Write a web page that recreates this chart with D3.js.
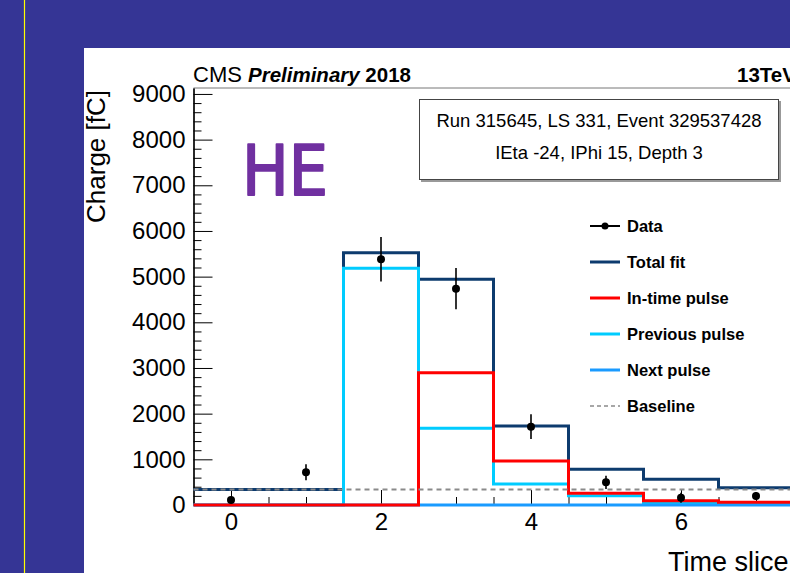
<!DOCTYPE html>
<html><head><meta charset="utf-8">
<script src="https://cdn.jsdelivr.net/npm/d3@7"></script>
<style>html,body{margin:0;padding:0;background:#353595;overflow:hidden}svg{display:block}</style>
</head><body>
<svg id="c" width="790" height="573"></svg>
<script>
// ---- data ----
const slices      = [0, 1, 2, 3, 4, 5, 6, 7];
const dataCharge  = [110, 716, 5380, 4737, 1715, 496, 160, 197];
const dataError   = [50, 175, 485, 450, 270, 145, 110, 90];
const totalFit    = [340, 340, 5525, 4942, 1730, 782, 563, 380];
const inTimePulse = [0, 0, 0, 2897, 963, 255, 95, 60];
const prevPulse   = [0, 0, 5183, 1679, 460, 200, 40, 10];
const nextPulse   = [0, 0, 0, 0, 0, 0, 0, 0];
const baseline    = 340;
const yMajorTicks = [0, 1000, 2000, 3000, 4000, 5000, 6000, 7000, 8000, 9000];
const xMajorTicks = [0, 2, 4, 6];
const legendLabels = ["Data", "Total fit", "In-time pulse", "Previous pulse", "Next pulse", "Baseline"];
const infoLines = ["Run 315645, LS 331, Event 329537428", "IEta -24, IPhi 15, Depth 3"];

const C = {navy:"#0d3b6e", red:"#ff0000", cyan:"#00ccff", azure:"#1a9bff", base:"#8a8a8a"};
const FONT = "'Liberation Sans', Arial, Helvetica, sans-serif";

const svg = d3.select("#c");
svg.append("rect").attr("width", 790).attr("height", 573).attr("fill", "#353595");
svg.append("line").attr("x1", 24.5).attr("x2", 24.5).attr("y1", 0).attr("y2", 573)
   .attr("stroke", "#ffff00").attr("stroke-width", 1.2);
svg.append("rect").attr("x", 84).attr("y", 48).attr("width", 706).attr("height", 525).attr("fill", "#fff");

const x = d3.scaleLinear().domain([-0.5, 7.5]).range([193.5, 793.5]);
const y = d3.scaleLinear().domain([0, 9130]).range([505, 88]);

// frame top
svg.append("line").attr("x1", 193.5).attr("x2", 793.5).attr("y1", 88).attr("y2", 88)
   .attr("stroke", "#777").attr("stroke-width", 1);

// axes
const yMinor = d3.range(0, 9130, 200).filter(v => v % 1000 !== 0);
const gyMinor = svg.append("g").attr("transform", "translate(193.5,0)")
  .call(d3.axisLeft(y).tickValues(yMinor).tickSize(-8).tickSizeOuter(0).tickFormat(""));
const gy = svg.append("g").attr("transform", "translate(193.5,0)")
  .call(d3.axisLeft(y).tickValues(yMajorTicks).tickSize(-19).tickSizeOuter(0).tickPadding(8).tickFormat(d3.format("d")));
const xMinor = d3.range(-0.5, 7.6, 0.5).filter(v => !xMajorTicks.includes(v) && v > -0.5);
const gxMinor = svg.append("g").attr("transform", "translate(0,505)")
  .call(d3.axisBottom(x).tickValues(xMinor).tickSize(-8).tickSizeOuter(0).tickFormat(""));
const gx = svg.append("g").attr("transform", "translate(0,505)")
  .call(d3.axisBottom(x).tickValues(xMajorTicks).tickSize(-15).tickSizeOuter(0).tickPadding(8).tickFormat(d3.format("d")));
[gyMinor, gy, gxMinor, gx].forEach(g => {
  g.selectAll("text").attr("font-family", FONT).attr("font-size", 24).attr("fill", "#000");
  g.selectAll("line").attr("stroke", "#000").attr("stroke-width", 1);
  g.select(".domain").attr("stroke", "#000").attr("stroke-width", 1.2);
});

// axis titles
svg.append("text").attr("transform", "translate(105,90) rotate(-90)")
  .attr("text-anchor", "end").attr("font-family", FONT).attr("font-size", 26).text("Charge [fC]");
svg.append("text").attr("x", 668).attr("y", 571)
  .attr("font-family", FONT).attr("font-size", 27).text("Time slice");

// header
const hdr = svg.append("text").attr("x", 193).attr("y", 82).attr("font-family", FONT);
hdr.append("tspan").attr("font-size", 22).text("CMS ");
hdr.append("tspan").attr("font-size", 20.5).attr("font-weight", "bold").attr("font-style", "italic").text("Preliminary");
hdr.append("tspan").attr("font-size", 20.5).attr("font-weight", "bold").text(" 2018");
svg.append("text").attr("x", 737).attr("y", 82).attr("font-family", FONT)
  .attr("font-size", 20.5).attr("font-weight", "bold").text("13TeV");

// info box
svg.append("rect").attr("x", 421).attr("y", 101).attr("width", 360).attr("height", 81).attr("fill", "#999");
svg.append("rect").attr("x", 419.5).attr("y", 99.5).attr("width", 359).attr("height", 80)
  .attr("fill", "#fff").attr("stroke", "#444").attr("stroke-width", 1);
svg.selectAll("text.info").data(infoLines).enter().append("text").attr("class", "info")
  .attr("x", 599).attr("y", (d, i) => 127 + i * 32).attr("text-anchor", "middle")
  .attr("font-family", FONT).attr("font-size", 18.5).text(d => d);

// HE label
svg.append("text").attr("x", 242).attr("y", 195)
  .attr("font-family", "'Comic Sans MS', 'DejaVu Sans', sans-serif").attr("font-size", 70)
  .attr("textLength", 86).attr("lengthAdjust", "spacingAndGlyphs")
  .attr("fill", "#7030a0").attr("stroke", "#7030a0").attr("stroke-width", 2).attr("stroke-linejoin", "round")
  .text("HE");

// histograms
const stepLine = d3.line().x(d => x(d[0])).y(d => y(d[1])).curve(d3.curveStepAfter);
function histPts(vals) {
  const pts = slices.map((s, i) => [s - 0.5, vals[i]]);
  pts.push([slices[slices.length - 1] + 0.5, vals[vals.length - 1]]);
  return pts;
}
const plot = svg.append("g");
[[totalFit, C.navy], [prevPulse, C.cyan], [nextPulse, C.azure], [inTimePulse, C.red]].forEach(([vals, col]) => {
  plot.append("path").attr("d", stepLine(histPts(vals))).attr("fill", "none")
    .attr("stroke", col).attr("stroke-width", 3).attr("stroke-linejoin", "miter");
});
plot.append("line").attr("x1", x(-0.5)).attr("x2", x(7.5)).attr("y1", y(baseline)).attr("y2", y(baseline))
  .attr("stroke", C.base).attr("stroke-width", 2).attr("stroke-dasharray", "5,4");

// data points
const pts = plot.selectAll("g.pt").data(slices).enter().append("g").attr("class", "pt");
pts.append("line").attr("x1", d => x(d)).attr("x2", d => x(d))
  .attr("y1", (d, i) => y(dataCharge[i] - dataError[i])).attr("y2", (d, i) => y(dataCharge[i] + dataError[i]))
  .attr("stroke", "#000").attr("stroke-width", 1.6);
pts.append("circle").attr("cx", d => x(d)).attr("cy", (d, i) => y(dataCharge[i])).attr("r", 4).attr("fill", "#000");

// legend
const legColors = ["#000", C.navy, C.red, C.cyan, C.azure, C.base];
const leg = svg.selectAll("g.leg").data(legendLabels).enter().append("g").attr("class", "leg")
  .attr("transform", (d, i) => `translate(590,${226 + i * 36})`);
leg.append("line").attr("x1", 0).attr("x2", 30).attr("y1", 0).attr("y2", 0)
  .attr("stroke", (d, i) => legColors[i]).attr("stroke-width", (d, i) => i === 0 ? 2 : (i === 5 ? 1.5 : 3))
  .attr("stroke-dasharray", (d, i) => i === 5 ? "4,3" : null);
leg.filter((d, i) => i === 0).append("circle").attr("cx", 15).attr("cy", 0).attr("r", 3.5).attr("fill", "#000");
leg.append("text").attr("x", 37).attr("y", 6).attr("font-family", FONT).attr("font-size", 16.5)
  .attr("font-weight", "bold").text(d => d);
</script>
</body></html>
